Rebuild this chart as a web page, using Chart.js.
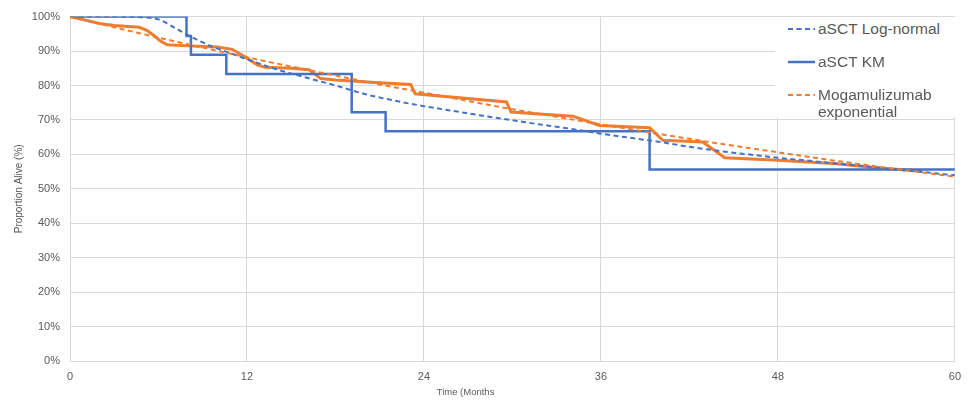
<!DOCTYPE html>
<html>
<head>
<meta charset="utf-8">
<script src="https://cdn.jsdelivr.net/npm/chart.js@4.4.1/dist/chart.umd.min.js"></script>
<style>
    html, body { margin: 0; padding: 0; background: #fff; }
    #wrap { position: relative; width: 970px; height: 401px; }
    #legend {
        position: absolute; left: 775px; top: 17px; width: 182px; height: 100px;
        background: #fff; color: #595959;
        font-family: "Liberation Sans", Arial, sans-serif; font-size: 15.5px;
    }
    #legend svg { position: absolute; left: 0; top: 0; }
    #legend span { position: absolute; left: 43px; line-height: 18px; white-space: nowrap; }
</style>
</head>
<body>
<div id="wrap">
    <canvas id="myChart" width="970" height="401"></canvas>
    <div id="legend">
        <svg width="182" height="100">
            <line x1="13" y1="12" x2="40" y2="12" stroke="#4472c4" stroke-width="2" stroke-dasharray="5,3.5"></line>
            <line x1="13" y1="45" x2="40" y2="45" stroke="#4472c4" stroke-width="2.5"></line>
            <line x1="13" y1="78" x2="40" y2="78" stroke="#ed7d31" stroke-width="2" stroke-dasharray="5,3.5"></line>
        </svg>
        <span style="top:3px">aSCT Log-normal</span>
        <span style="top:36px">aSCT KM</span>
        <span style="top:69px">Mogamulizumab</span>
        <span style="top:86px">exponential</span>
    </div>
</div>
<script>
// aSCT log-normal fit (dashed blue)
const lognormMonths = [0, 3, 5, 6, 7, 8, 9, 10, 11, 12, 14, 16, 18, 20, 22, 24, 26, 28, 30, 32, 34, 36, 38, 40, 42, 44, 46, 48, 50, 52, 54, 56, 58, 60];
const lognormValues = [100, 100, 99.8, 99.2, 97.0, 94.6, 92.5, 90.7, 89.2, 87.6, 84.7, 82.3, 80.0, 77.5, 75.6, 74.0, 72.6, 71.2, 69.9, 68.6, 67.4, 66.0, 64.8, 63.6, 62.2, 61.0, 60.0, 59.0, 58.2, 57.3, 56.5, 55.6, 54.8, 53.9];

// aSCT Kaplan-Meier (solid blue, steps)
const kmMonths = [0, 7.9, 8.2, 10.6, 19.1, 21.4, 39.3, 60];
const kmValues = [100, 94.4, 88.9, 83.3, 72.2, 66.7, 55.6, 55.6];

// mogamulizumab KM (solid orange, no legend entry)
const mogaKmMonths = [0, 1, 2, 3, 4.7, 5.2, 5.7, 6.1, 6.6, 8, 10, 11, 11.8, 12.7, 13.2, 15, 16.2, 17, 18, 21, 23.1, 23.4, 26, 29.6, 29.9, 31.8, 34.1, 35.9, 39.3, 40.2, 42.9, 44.4, 48, 52, 55, 57.8];
const mogaKmValues = [100, 99, 98, 97.4, 96.9, 96.0, 94.5, 93.0, 91.8, 91.5, 91.2, 90.5, 88.5, 86.0, 85.3, 85.0, 84.6, 82.0, 81.6, 80.8, 80.3, 77.6, 76.6, 75.2, 72.3, 71.7, 71.1, 68.4, 67.7, 64.1, 63.6, 59.0, 58.3, 57.3, 56.0, 55.2];

// mogamulizumab exponential fit (dashed orange)
const expMonths = [0, 3, 6, 9, 12, 15, 18, 21, 24, 27, 30, 33, 36, 39, 42, 45, 48, 51, 54, 57, 60];
const expValues = [100, 96.9, 93.9, 91.0, 88.2, 85.5, 82.9, 80.3, 77.9, 75.5, 73.1, 70.9, 68.7, 66.6, 64.5, 62.5, 60.6, 58.7, 56.9, 55.2, 53.5];

const xTicks = [0, 12, 24, 36, 48, 60];
const yTitle = 'Proportion Alive (%)';
const xTitle = 'Time (Months';

const textColor = '#595959';
const gridColor = '#d9d9d9';
const fontFamily = '"Liberation Sans", Arial, sans-serif';

function toPoints(xs, ys) {
    return xs.map((x, i) => ({ x: x, y: ys[i] }));
}

// x axis title sits a bit left of centre in the original
const xTitlePlugin = {
    id: 'xTitle',
    afterDraw(chart) {
        const { ctx, chartArea } = chart;
        ctx.save();
        ctx.font = '9.5px ' + fontFamily;
        ctx.fillStyle = textColor;
        ctx.textAlign = 'center';
        ctx.textBaseline = 'middle';
        ctx.fillText(xTitle, chartArea.left + (chartArea.right - chartArea.left) * 0.447, 392);
        ctx.restore();
    }
};

new Chart(document.getElementById('myChart'), {
    type: 'line',
    data: {
        datasets: [{
            label: 'aSCT Log-normal',
            data: toPoints(lognormMonths, lognormValues),
            borderColor: '#4472c4',
            borderWidth: 2,
            borderDash: [5, 3.5],
            cubicInterpolationMode: 'monotone',
            order: 2
        }, {
            label: 'aSCT KM',
            data: toPoints(kmMonths, kmValues),
            borderColor: '#4472c4',
            borderWidth: 2.5,
            stepped: 'before',
            order: 3
        }, {
            label: 'Mogamulizumab KM',
            data: toPoints(mogaKmMonths, mogaKmValues),
            borderColor: '#ed7d31',
            borderWidth: 3,
            tension: 0,
            order: 4
        }, {
            label: 'Mogamulizumab exponential',
            data: toPoints(expMonths, expValues),
            borderColor: '#ed7d31',
            borderWidth: 2,
            borderDash: [5, 3.5],
            cubicInterpolationMode: 'monotone',
            order: 1
        }]
    },
    options: {
        responsive: false,
        animation: false,
        devicePixelRatio: 1,
        layout: { padding: { top: 16, right: 9, bottom: 0, left: 0 } },
        elements: { point: { radius: 0 } },
        scales: {
            x: {
                type: 'linear',
                min: 0,
                max: 60,
                afterFit: s => { s.height = 40; },
                afterBuildTicks: s => { s.ticks = xTicks.map(v => ({ value: v })); },
                grid: { color: gridColor, drawTicks: false },
                border: { color: gridColor },
                ticks: { color: textColor, font: { family: fontFamily, size: 11 }, padding: 9 }
            },
            y: {
                min: 0,
                max: 100,
                afterFit: s => { s.width = 70; },
                grid: { color: gridColor, drawTicks: false },
                border: { color: gridColor },
                ticks: {
                    stepSize: 10,
                    color: textColor,
                    font: { family: fontFamily, size: 11 },
                    padding: 10,
                    callback: v => v + '%'
                },
                title: {
                    display: true,
                    text: yTitle,
                    color: textColor,
                    font: { family: fontFamily, size: 10 },
                    padding: { top: 13, bottom: 4 }
                }
            }
        },
        plugins: {
            legend: { display: false },
            tooltip: { enabled: false }
        }
    },
    plugins: [xTitlePlugin]
});
</script>
</body>
</html>
